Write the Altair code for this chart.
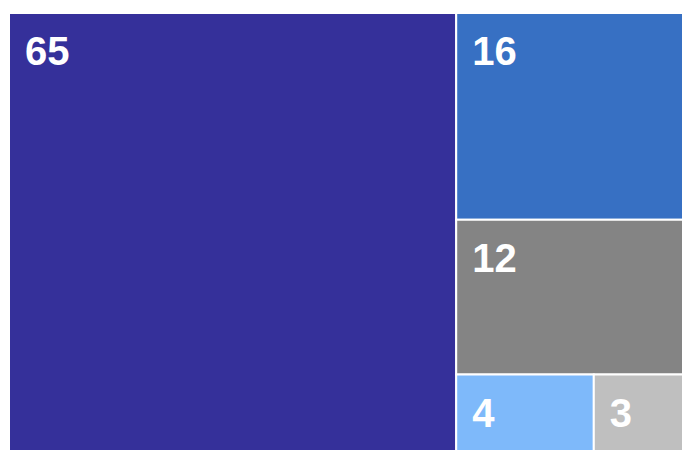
import altair as alt
import pandas as pd

# Data
labels = ["65", "16", "12", "4", "3"]
values = [65, 16, 12, 4, 3]
colors = ["#35309a", "#3770c3", "#848484", "#7eb9fa", "#bfbfbf"]

# full treemap extent (the picture crops its right and bottom edges)
W, H = 688.0, 452.0
VIS_W, VIS_H = 673.0, 437.0


def worst(row, side):
    s = sum(row)
    return max(max(side * side * r / (s * s), (s * s) / (side * side * r)) for r in row)


def layout_row(row, x, y, w, h):
    s = sum(row)
    rects = []
    if w >= h:
        cw = s / h
        cy = y
        for r in row:
            rh = r / cw
            rects.append((x, cy, x + cw, cy + rh))
            cy += rh
        return rects, (x + cw, y, w - cw, h)
    else:
        rh = s / w
        cx = x
        for r in row:
            rw = r / rh
            rects.append((cx, y, cx + rw, y + rh))
            cx += rw
        return rects, (x, y + rh, w, h - rh)


def squarify(vals, x, y, w, h):
    total = sum(vals)
    areas = [v * w * h / total for v in vals]
    out = []
    row = []
    i = 0
    while i < len(areas):
        side = min(w, h)
        a = areas[i]
        if not row or worst(row + [a], side) <= worst(row, side):
            row.append(a)
            i += 1
        else:
            rects, (x, y, w, h) = layout_row(row, x, y, w, h)
            out.extend(rects)
            row = []
    if row:
        rects, _ = layout_row(row, x, y, w, h)
        out.extend(rects)
    return out


rects = squarify(values, 0.0, 0.0, W, H)
df = pd.DataFrame({
    "label": labels,
    "value": values,
    "x0": [r[0] for r in rects],
    "y0": [r[1] for r in rects],
    "x1": [r[2] for r in rects],
    "y1": [r[3] for r in rects],
})

xs = alt.Scale(domain=[0, VIS_W], nice=False, zero=False)
ys = alt.Scale(domain=[0, VIS_H], nice=False, zero=False, reverse=True)

base = alt.Chart(df)

cells = base.mark_rect(stroke="white", strokeWidth=2, clip=True).encode(
    x=alt.X("x0:Q", scale=xs, axis=None),
    x2="x1:Q",
    y=alt.Y("y0:Q", scale=ys, axis=None),
    y2="y1:Q",
    color=alt.Color("label:N", scale=alt.Scale(domain=labels, range=colors), legend=None),
)

text = base.mark_text(
    align="left", baseline="alphabetic", dx=16, dy=52, clip=True,
    font="Liberation Sans", fontSize=40, fontWeight="bold", color="white",
).encode(
    x=alt.X("x0:Q", scale=xs, axis=None),
    y=alt.Y("y0:Q", scale=ys, axis=None),
    text="label:N",
)

chart = (cells + text).properties(
    width=VIS_W, height=VIS_H,
    padding={"left": 1, "top": 5, "right": 0, "bottom": 0},
).configure_view(stroke="#cccccc", strokeWidth=1)

chart.save("out.html", embed_options={"renderer": "svg", "actions": False})
